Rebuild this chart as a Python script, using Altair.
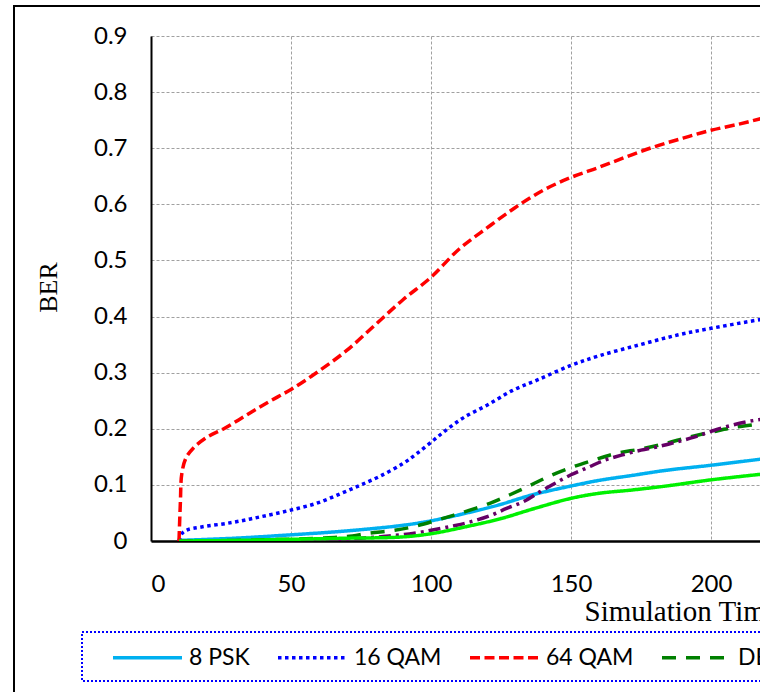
import altair as alt
import pandas as pd

# BER versus simulation time for each modulation scheme
series_names = ["8 PSK", "16 QAM", "64 QAM", "DBPSK", "DQPSK", "BPSK"]

psk8_t = [10, 30, 50, 70, 90, 100, 112, 124, 136, 150, 160, 172, 184, 200, 218]
psk8_ber = [0.001, 0.005, 0.011, 0.018, 0.028, 0.036, 0.049, 0.064, 0.082, 0.098, 0.108, 0.117, 0.126, 0.135, 0.146]

qam16_t = [10, 11, 13, 18, 29, 39, 49, 59, 68, 75, 82, 90, 95, 101, 106, 112, 120, 129, 138, 150, 160, 174, 188, 200, 218]
qam16_ber = [0, 0.013, 0.02, 0.025, 0.033, 0.043, 0.054, 0.067, 0.085, 0.1, 0.116, 0.138, 0.156, 0.18, 0.2,
             0.221, 0.242, 0.268, 0.287, 0.313, 0.33, 0.349, 0.367, 0.379, 0.395]

qam64_t = [10, 10.5, 11, 12.5, 15, 20, 26, 34, 42, 50, 60, 70, 80, 90, 100, 110, 120, 130, 140, 150,
           160, 170, 180, 190, 200, 210, 218]
qam64_ber = [0, 0.07, 0.12, 0.148, 0.165, 0.185, 0.2, 0.224, 0.248, 0.27, 0.303, 0.34, 0.385, 0.43, 0.47,
             0.52, 0.558, 0.594, 0.625, 0.648, 0.666, 0.685, 0.703, 0.718, 0.732, 0.743, 0.753]

dbpsk_t = [10, 30, 48, 60, 70, 78, 87, 95, 104, 112, 121, 128, 135, 142, 150, 158, 166, 175, 184, 192, 201, 209, 218]
dbpsk_ber = [0, 0.001, 0.003, 0.005, 0.008, 0.014, 0.019, 0.027, 0.04, 0.052, 0.067, 0.082, 0.098, 0.115,
             0.131, 0.144, 0.156, 0.164, 0.174, 0.185, 0.195, 0.203, 0.209]

dqpsk_t = [10, 40, 60, 75, 85, 94, 101, 108, 114, 121, 127, 133, 139, 144, 150, 156, 162, 168, 175, 181,
           188, 194, 201, 208, 215, 220]
dqpsk_ber = [0, 0.0005, 0.002, 0.005, 0.009, 0.014, 0.02, 0.027, 0.034, 0.045, 0.058, 0.07, 0.088, 0.102,
             0.118, 0.131, 0.144, 0.153, 0.162, 0.168, 0.177, 0.185, 0.197, 0.207, 0.2145, 0.218]

bpsk_t = [10, 30, 50, 70, 89, 100, 113, 125, 137, 150, 160, 172, 184, 200, 218]
bpsk_ber = [0, 0.001, 0.003, 0.005, 0.007, 0.013, 0.026, 0.04, 0.058, 0.076, 0.085, 0.091, 0.098, 0.109, 0.119]

x_ticks = [0, 50, 100, 150, 200]
y_ticks = [0, 0.1, 0.2, 0.3, 0.4, 0.5, 0.6, 0.7, 0.8, 0.9]

rows = []
for name, ts, bs in zip(
    series_names,
    [psk8_t, qam16_t, qam64_t, dbpsk_t, dqpsk_t, bpsk_t],
    [psk8_ber, qam16_ber, qam64_ber, dbpsk_ber, dqpsk_ber, bpsk_ber],
):
    for t, b in zip(ts, bs):
        rows.append({"series": name, "time": t, "ber": b})
df = pd.DataFrame(rows)

line_colors = ["#00B0F0", "#0000FF", "#FF0000", "#008000", "#660066", "#00F000"]
line_dashes = [[1, 0], [3.5, 3.5], [10, 4.5], [14, 10], [12, 5, 3, 5], [1, 0]]

grid_style = dict(gridColor="#a0a0a0", gridDash=[3, 2], gridWidth=1)

x_axis = alt.Axis(
    values=x_ticks, tickSize=0, labelFont="Lato", labelFontSize=24, labelColor="black",
    labelPadding=31, domainColor="black", domainWidth=2.5,
    title="Simulation Time (sec)", titleFont="Liberation Serif", titleFontSize=29,
    titleFontWeight="normal", titleColor="black", titleAnchor="start", titleAlign="left",
    titleBaseline="alphabetic", titleX=433, titleY=79, **grid_style,
)
y_axis = alt.Axis(
    values=y_ticks, format=".1~f", tickSize=0, labelFont="Lato", labelFontSize=24,
    labelColor="black", labelPadding=24, domainColor="black", domainWidth=2,
    title="BER", titleFont="Liberation Serif", titleFontSize=26, titleFontWeight="normal",
    titleColor="black", titleAngle=270, titleAlign="center", titleBaseline="middle",
    titleX=-103, titleY=251, **grid_style,
)

legend = alt.Legend(
    orient="none", legendX=-40, legendY=585, direction="horizontal", padding=0,
    symbolType="stroke", symbolSize=4761, symbolStrokeWidth=3.5,
    labelFont="Lato", labelFontSize=23, labelColor="black", labelOffset=5,
    columnPadding=21, labelLimit=0,
)

lines = alt.Chart(df).mark_line(interpolate="catmull-rom", strokeWidth=3.5, clip=True).encode(
    x=alt.X("time:Q", scale=alt.Scale(domain=[0, 217.5], nice=False, zero=False), axis=x_axis),
    y=alt.Y("ber:Q", scale=alt.Scale(domain=[0, 0.9], nice=False), axis=y_axis),
    color=alt.Color("series:N", scale=alt.Scale(domain=series_names, range=line_colors),
                    legend=legend, title=None),
    strokeDash=alt.StrokeDash("series:N", scale=alt.Scale(domain=series_names, range=line_dashes),
                              legend=legend, title=None),
    order=alt.Order("time:Q"),
)

# outer chart-area frame
frame = alt.Chart(alt.Data(values=[{}])).mark_rect(
    fillOpacity=0, stroke="black", strokeWidth=2, clip=False
).encode(x=alt.value(-137), x2=alt.value(2000), y=alt.value(-30), y2=alt.value(2000))

# dotted box around the legend
legend_box = alt.Chart(alt.Data(values=[{}])).mark_rect(
    fillOpacity=0, stroke="#0000FF", strokeWidth=2, strokeDash=[2, 2], clip=False
).encode(x=alt.value(-69), x2=alt.value(2000), y=alt.value(596), y2=alt.value(645))

chart = alt.layer(frame, legend_box, lines).properties(
    width=609, height=505, autosize="none",
    padding={"left": 151, "top": 36, "right": 0, "bottom": 151},
    background="white",
).configure_view(strokeWidth=0)

chart.save("out.html", embed_options={"renderer": "svg", "actions": False})
